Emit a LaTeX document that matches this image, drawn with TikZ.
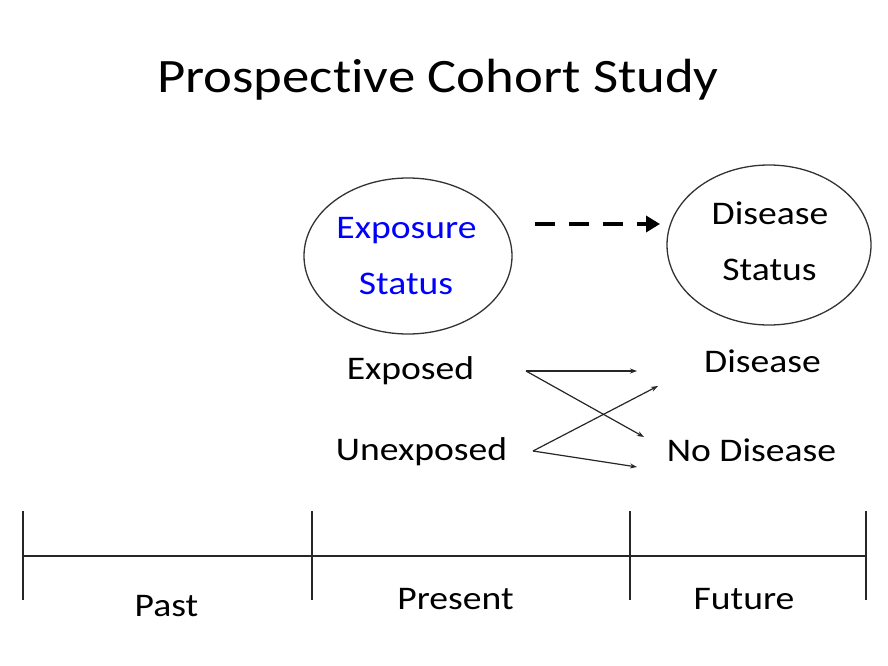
\documentclass[tikz,border=0pt]{standalone}
\usepackage{fontspec}
\setmainfont[Ligatures=NoCommon,FakeStretch=1.14]{Carlito}
\usetikzlibrary{arrows.meta,shapes.geometric}
\begin{document}
\begin{tikzpicture}[x=1pt,y=-1pt,
  lbl/.style={font=\fontsize{33}{40}\selectfont, inner sep=0pt, anchor=base},
  circ/.style={draw=black!80, line width=1.3pt, ellipse, minimum width=208pt, minimum height=156pt},
  thin/.style={-{Stealth[length=7pt,width=5pt]}, line width=1.2pt, black!85},
  tl/.style={line width=1.6pt, black!85}
]
\useasboundingbox (0,0) rectangle (888,666);
\node[font=\fontsize{48}{56}\selectfont, inner sep=0pt, anchor=base] (title) at (438,93) {Prospective Cohort Study};
\node[circ] (e1) at (408,256) {};
\node[circ, minimum width=204pt, minimum height=160pt] (e2) at (769,245) {};
\node[lbl, text=blue] (exp) at (406.5,238) {Exposure};
\node[lbl, text=blue] (st1) at (406,294) {Status};
\node[lbl] (dis) at (770,224) {Disease};
\node[lbl] (st2) at (769.5,280) {Status};
\coordinate (da) at (535,224);
\coordinate (db) at (660,224);
\draw[line width=4.5pt, dash pattern=on 20pt off 14pt, -{Triangle[length=14pt,width=16pt]}] (da) -- (db);
\node[lbl] (exposed) at (410.5,379) {Exposed};
\node[lbl] (unexp) at (421.5,460) {Unexposed};
\node[lbl] (disease) at (762.5,372) {Disease};
\node[lbl] (nodis) at (751.5,461) {No Disease};
\coordinate (a1) at (526,371);
\coordinate (a2) at (533,451);
\coordinate (b1) at (637,371);
\coordinate (b2) at (644,437);
\coordinate (b3) at (658,386);
\coordinate (b4) at (637,467);
\draw[thin] (a1) -- (b1);
\draw[thin] (a1) -- (b2);
\draw[thin] (a2) -- (b3);
\draw[thin] (a2) -- (b4);
\coordinate (t0) at (23,556);
\coordinate (t3) at (866,556);
\draw[tl] (t0) -- (t3);
\foreach \x/\n in {23/k0,312/k1,630/k2,866/k3} {
  \coordinate (\n a) at (\x,511);
  \coordinate (\n b) at (\x,600);
  \draw[tl] (\n a) -- (\n b);
}
\node[lbl] (past) at (166.5,616) {Past};
\node[lbl] (present) at (455.5,609) {Present};
\node[lbl] (future) at (744,609) {Future};
\end{tikzpicture}
\end{document}
